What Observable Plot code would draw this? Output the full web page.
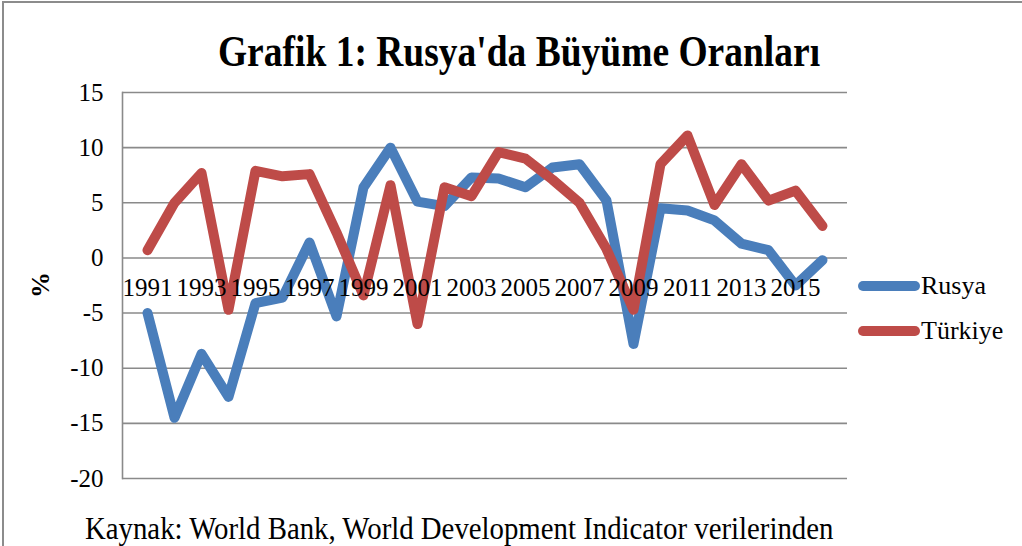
<!DOCTYPE html>
<html><head><meta charset="utf-8">
<script src="https://cdn.jsdelivr.net/npm/d3@7"></script>
<script src="https://cdn.jsdelivr.net/npm/@observablehq/plot@0.6"></script>
<style>
body{margin:0;background:#fff;}
#wrap{position:relative;width:1022px;height:546px;overflow:hidden;font-family:"Liberation Serif","Times New Roman",serif;}
#border{position:absolute;left:2px;top:1px;width:1030px;height:600px;border-left:2px solid #8c8c8c;border-top:2px solid #8c8c8c;box-sizing:border-box;}
#title{position:absolute;left:0;width:1038px;top:28px;text-align:center;font-weight:bold;font-size:37.5px;line-height:40px;transform:scaleY(1.2);transform-origin:center top;}
#caption{position:absolute;left:85px;top:510px;font-size:28.8px;line-height:32px;white-space:nowrap;transform:scaleY(1.1);transform-origin:left top;}
#ylab{position:absolute;left:28px;top:270px;font-weight:bold;font-size:26px;transform:rotate(-90deg);transform-origin:center;}
#chart{position:absolute;left:0;top:0;}
.leg{position:absolute;left:858px;font-size:26px;display:flex;align-items:center;}
.leg span.sw{display:inline-block;width:62px;height:10px;border-radius:5px;margin-right:1px;}
</style></head>
<body><div id="wrap">
<div id="border"></div>
<div id="chart"></div>
<div id="title">Grafik 1: Rusya'da Büyüme Oranları</div>
<div id="ylab">%</div>
<div id="legend"></div>
<div id="caption">Kaynak: World Bank, World Development Indicator verilerinden</div>
</div>
<script>
const years = [1991,1992,1993,1994,1995,1996,1997,1998,1999,2000,2001,2002,2003,2004,2005,2006,2007,2008,2009,2010,2011,2012,2013,2014,2015,2016];
const rusya = [-5.0,-14.5,-8.7,-12.6,-4.1,-3.6,1.4,-5.3,6.4,10.0,5.1,4.7,7.3,7.2,6.4,8.2,8.5,5.2,-7.8,4.5,4.3,3.4,1.3,0.7,-2.5,-0.2];
const turkiye = [0.7,5.0,7.7,-4.7,7.9,7.4,7.6,2.3,-3.4,6.6,-6.0,6.4,5.6,9.6,9.0,7.1,5.0,0.8,-4.7,8.5,11.1,4.8,8.5,5.2,6.1,2.9];
const yTicks = [-20,-15,-10,-5,0,5,10,15];
const xLabels = years.filter((y,i)=>i%2===0);
const seriesNames = ["Rusya","Türkiye"];
const colors = ["#4a7ebb","#be4b48"];

const data = [];
years.forEach((y,i)=>{
  data.push({year:y, value:rusya[i], series:"Rusya"});
  data.push({year:y, value:turkiye[i], series:"Türkiye"});
});

const chart = Plot.plot({
  width:1022, height:546,
  marginTop:92, marginBottom:68, marginLeft:122, marginRight:175,
  style:{fontFamily:"'Liberation Serif', 'Times New Roman', serif", background:"transparent", overflow:"visible"},
  x:{type:"point", domain:years, padding:0.5, axis:null},
  y:{domain:[-20,15], axis:null},
  color:{domain:seriesNames, range:colors},
  marks:[
    Plot.gridY(yTicks,{stroke:"#8a8a8a", strokeOpacity:1, strokeWidth:1.6}),
    Plot.frame({anchor:"left", stroke:"#8a8a8a", strokeWidth:1.6}),
    Plot.axisY(yTicks,{tickSize:0, tickPadding:19, fontSize:25, fill:"#000", tickFormat:d=>String(d), label:null}),
    Plot.line(data,{x:"year", y:"value", z:"series", stroke:"series", strokeWidth:10, strokeLinejoin:"round", strokeLinecap:"round"}),
    Plot.text(xLabels,{x:d=>d, y:()=>0, text:d=>String(d), dy:30, fontSize:25, fill:"#000"})
  ]
});
document.getElementById("chart").appendChild(chart);

const leg = document.getElementById("legend");
seriesNames.forEach((s,i)=>{
  const d = document.createElement("div");
  d.className="leg";
  d.style.top = (271 + i*45) + "px";
  d.innerHTML = `<span class="sw" style="background:${colors[i]}"></span>${s}`;
  leg.appendChild(d);
});
</script>
</body></html>
